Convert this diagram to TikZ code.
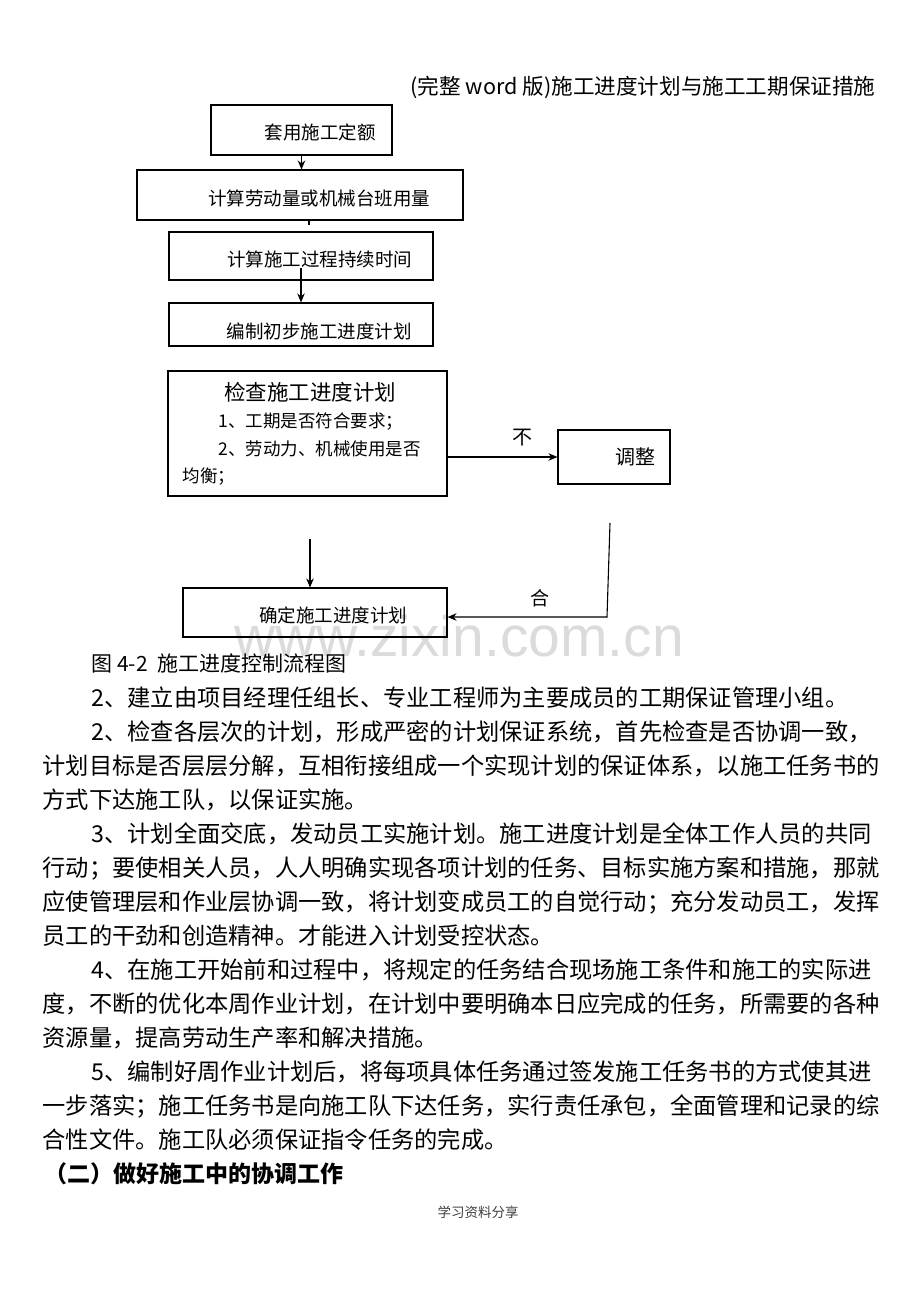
\documentclass[tikz,border=0pt]{standalone}
\usepackage{fontspec}
\setmainfont{Noto Sans CJK SC}
\newfontfamily\wmfont{Liberation Sans}
\usetikzlibrary{arrows.meta}

\begin{document}
\begin{tikzpicture}
    [x=1pt, y=-1pt, line width=1.1pt, >={Stealth[length=9pt, width=7.5pt]},
     box/.style={draw, inner sep=0pt},
     lbl/.style={inner sep=0pt, font=\fontsize{18.5}{22}\selectfont},
     small/.style={lbl, anchor=west, font=\fontsize{17.5}{20}\selectfont},
     textline/.style={anchor=base west, inner sep=0pt, font=\fontsize{23.25}{28}\selectfont}]
  \useasboundingbox (0,0) rectangle (920,1302);

  % watermark and header
  \node[text=black!14, font=\wmfont\fontsize{57}{60}\selectfont] (wm) at (459,636) {www.zixin.com.cn};
  \node[anchor=base east, inner sep=0pt, font=\fontsize{21.6}{24}\selectfont] (hd) at (876,94)
    {(完整 word 版)施工进度计划与施工工期保证措施};

  % flow chart
  \node[box, minimum width=181, minimum height=50] (b1) at (301.5,130) {};
  \node[lbl] (t1) at (320,132) {套用施工定额};
  \node[box, minimum width=326, minimum height=50] (b2) at (300,195) {};
  \node[lbl] (t2) at (319,198) {计算劳动量或机械台班用量};
  \node[box, minimum width=264, minimum height=48] (b3) at (301,256) {};
  \node[lbl] (t3) at (319.5,259) {计算施工过程持续时间};
  \node[box, minimum width=264, minimum height=43] (b4) at (301,324.5) {};
  \node[lbl] (t4) at (319,331) {编制初步施工进度计划};
  \node[box, minimum width=279, minimum height=125] (b5) at (307.5,433.5) {};
  \node[lbl, font=\fontsize{21.5}{24}\selectfont] (t5) at (310,392) {检查施工进度计划};
  \node[small] (t5a) at (218,422) {1、工期是否符合要求；};
  \node[small] (t5b) at (218,449) {2、劳动力、机械使用是否};
  \node[small] (t5c) at (182,477) {均衡；};
  \node[box, minimum width=112, minimum height=54] (b6) at (614,457) {};
  \node[lbl, font=\fontsize{20}{24}\selectfont] (t6) at (635,457) {调整};
  \node[box, minimum width=264, minimum height=49] (b7) at (315,612.5) {};
  \node[lbl] (t7) at (333,615) {确定施工进度计划};
  \node[lbl, font=\fontsize{20}{24}\selectfont] (no) at (522,438) {不};
  \node[lbl, font=\fontsize{19}{22}\selectfont] (ok) at (540,598) {合};

  \path (b2.south) ++(9,0) coordinate (s2a) ++(0,4) coordinate (s2b);
  \path (b3.center) ++(0,12) coordinate (s3);
  \coordinate (c1) at (610,523);
  \coordinate (c2) at (607,617);
  \coordinate (c3) at (310,539);

  \draw[->] (b1.south) -- (b1.south |- b2.north);
  \draw (s2a) -- (s2b);
  \draw[->] (s3) -- (s3 |- b4.north);
  \draw[->] (b6.west -| b5.east) -- (b6.west);
  \draw[->] (c1) -- (c2) -- (c2 -| b7.east);
  \draw[->] (c3) -- (c3 |- b7.north);

  % text below
  \node[textline, font=\fontsize{21}{24}\selectfont] (cap) at (91,671) {图 4-2\ \ 施工进度控制流程图};
  \foreach \x/\t [count=\i] in {
      91/2、建立由项目经理任组长、专业工程师为主要成员的工期保证管理小组。,
      91/2、检查各层次的计划，形成严密的计划保证系统，首先检查是否协调一致，,
      42/计划目标是否层层分解，互相衔接组成一个实现计划的保证体系，以施工任务书的,
      42/方式下达施工队，以保证实施。,
      91/3、计划全面交底，发动员工实施计划。施工进度计划是全体工作人员的共同,
      42/行动；要使相关人员，人人明确实现各项计划的任务、目标实施方案和措施，那就,
      42/应使管理层和作业层协调一致，将计划变成员工的自觉行动；充分发动员工，发挥,
      42/员工的干劲和创造精神。才能进入计划受控状态。,
      91/4、在施工开始前和过程中，将规定的任务结合现场施工条件和施工的实际进,
      42/度，不断的优化本周作业计划，在计划中要明确本日应完成的任务，所需要的各种,
      42/资源量，提高劳动生产率和解决措施。,
      91/5、编制好周作业计划后，将每项具体任务通过签发施工任务书的方式使其进,
      42/一步落实；施工任务书是向施工队下达任务，实行责任承包，全面管理和记录的综,
      42/合性文件。施工队必须保证指令任务的完成。}
    \node[textline] (l\i) at (\x, {672+34*\i}) {\t};
  \node[textline, font=\fontsize{23}{28}\selectfont\bfseries] (sec) at (44,1182) {（二）做好施工中的协调工作};

  \node[font=\fontsize{13.5}{16}\selectfont, text=black!75] (ft) at (478,1212) {学习资料分享};
\end{tikzpicture}
\end{document}
